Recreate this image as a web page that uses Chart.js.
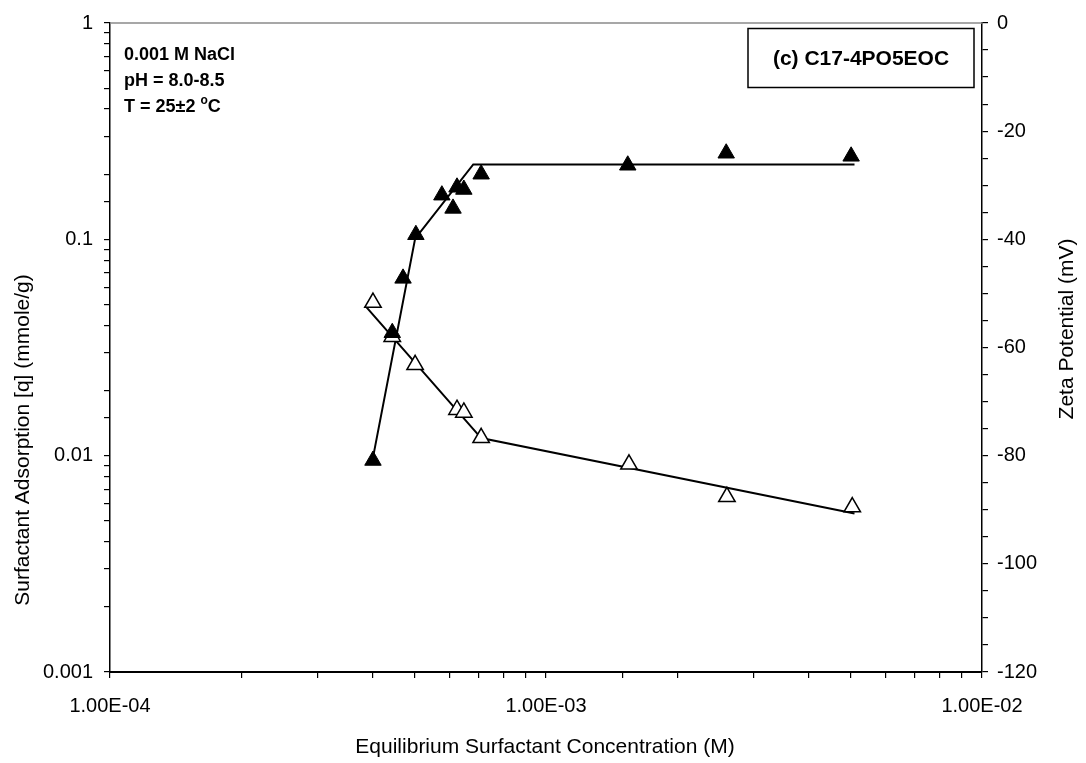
<!DOCTYPE html>
<html>
<head>
<meta charset="utf-8">
<script src="https://cdn.jsdelivr.net/npm/chart.js@4/dist/chart.umd.min.js"></script>
<style>
  body { margin: 0; background: #fff; }
  #wrap { width: 1086px; height: 763px; }
</style>
</head>
<body>
<div id="wrap"><canvas id="isoChart" width="1086" height="763"></canvas></div>
<script>
// Adsorption isotherm (filled triangles, left axis)
const adsConc = [4.01e-4, 4.44e-4, 4.70e-4, 5.03e-4, 5.77e-4, 6.12e-4, 6.25e-4, 6.48e-4, 7.10e-4, 1.54e-3, 2.59e-3, 5.01e-3];
const adsValues = [0.0095, 0.037, 0.066, 0.105, 0.16, 0.139, 0.174, 0.17, 0.20, 0.22, 0.25, 0.242];

// Zeta potential (open triangles, right axis)
const zetaConc = [4.01e-4, 4.44e-4, 5.01e-4, 6.25e-4, 6.48e-4, 7.10e-4, 1.55e-3, 2.60e-3, 5.04e-3];
const zetaValues = [-51.7, -58.0, -63.2, -71.5, -72.0, -76.7, -81.6, -87.6, -89.5];

// Trend lines
const adsFitConc = [4.01e-4, 5.01e-4, 6.81e-4, 5.1e-3];
const adsFitValues = [0.0098, 0.1007, 0.222, 0.222];
const zetaFitConc = [3.85e-4, 7.10e-4, 5.1e-3];
const zetaFitValues = [-52.3, -76.75, -90.7];

// Tick labels
const xTickLabels = ['1.00E-04', '1.00E-03', '1.00E-02'];
const yTickLabels = ['0.001', '0.01', '0.1', '1'];

const FONT = '"Liberation Sans", Arial, Helvetica, sans-serif';

function pts(xs, ys) {
    return xs.map((x, i) => ({ x: x, y: ys[i] }));
}

// returns exponent if v is an exact power of ten, otherwise null
function decade(v) {
    const e = Math.log10(v);
    const r = Math.round(e);
    return Math.abs(e - r) < 1e-6 ? r : null;
}

const textPlugin = {
    id: 'chartText',
    afterDraw(chart) {
        const ctx = chart.ctx;
        const area = chart.chartArea;
        ctx.save();

        // light frame line along the top
        ctx.strokeStyle = '#8a8a8a';
        ctx.lineWidth = 1.5;
        ctx.beginPath();
        ctx.moveTo(area.left, area.top);
        ctx.lineTo(area.right, area.top);
        ctx.stroke();

        ctx.fillStyle = '#000';

        // axis titles
        ctx.font = '21px ' + FONT;
        ctx.textAlign = 'center';
        ctx.textBaseline = 'middle';
        ctx.fillText('Equilibrium Surfactant Concentration (M)', 545, 747);

        ctx.save();
        ctx.translate(23, 440);
        ctx.rotate(-Math.PI / 2);
        ctx.fillText('Surfactant Adsorption [q] (mmole/g)', 0, 0);
        ctx.restore();

        ctx.save();
        ctx.translate(1067, 329);
        ctx.rotate(-Math.PI / 2);
        ctx.fillText('Zeta Potential (mV)', 0, 0);
        ctx.restore();

        // conditions
        ctx.font = 'bold 18px ' + FONT;
        ctx.textAlign = 'left';
        ctx.textBaseline = 'alphabetic';
        ctx.fillText('0.001 M NaCl', 124, 60);
        ctx.fillText('pH = 8.0-8.5', 124, 86);
        const tLabel = 'T = 25\u00b12 ';
        ctx.fillText(tLabel, 124, 112);
        let tx = 124 + ctx.measureText(tLabel).width;
        ctx.font = 'bold 12px ' + FONT;
        ctx.fillText('o', tx, 104);
        tx += ctx.measureText('o').width;
        ctx.font = 'bold 18px ' + FONT;
        ctx.fillText('C', tx, 112);

        // sample label box
        ctx.lineWidth = 1.5;
        ctx.strokeStyle = '#000';
        ctx.strokeRect(748, 28.5, 226, 59);
        ctx.font = 'bold 21px ' + FONT;
        ctx.textAlign = 'center';
        ctx.textBaseline = 'middle';
        ctx.fillText('(c) C17-4PO5EOC', 861, 59);

        ctx.restore();
    }
};

new Chart(document.getElementById('isoChart'), {
    type: 'scatter',
    data: {
        datasets: [
            {
                label: 'Adsorption',
                data: pts(adsConc, adsValues),
                yAxisID: 'y',
                pointStyle: 'triangle',
                pointRadius: 9.5,
                pointHoverRadius: 9.5,
                backgroundColor: '#000',
                borderColor: '#000',
                borderWidth: 1,
                order: 1
            },
            {
                label: 'Zeta potential',
                data: pts(zetaConc, zetaValues),
                yAxisID: 'y2',
                pointStyle: 'triangle',
                pointRadius: 9.5,
                pointHoverRadius: 9.5,
                backgroundColor: '#fff',
                borderColor: '#000',
                borderWidth: 1.5,
                order: 2
            },
            {
                label: 'Adsorption fit',
                data: pts(adsFitConc, adsFitValues),
                yAxisID: 'y',
                showLine: true,
                pointRadius: 0,
                borderColor: '#000',
                borderWidth: 2,
                order: 3
            },
            {
                label: 'Zeta fit',
                data: pts(zetaFitConc, zetaFitValues),
                yAxisID: 'y2',
                showLine: true,
                pointRadius: 0,
                borderColor: '#000',
                borderWidth: 2,
                order: 4
            }
        ]
    },
    options: {
        responsive: false,
        animation: false,
        layout: { padding: { top: 20, left: 0, right: 0, bottom: 0 } },
        plugins: {
            legend: { display: false },
            tooltip: { enabled: false }
        },
        scales: {
            x: {
                type: 'logarithmic',
                position: 'bottom',
                min: 1e-4,
                max: 1e-2,
                afterFit: s => { s.height = 91; },
                border: { color: '#000', width: 2 },
                grid: { drawOnChartArea: false, drawTicks: true, tickLength: 6, tickColor: '#000', lineWidth: 1.2 },
                ticks: {
                    color: '#000',
                    font: { family: FONT, size: 20 },
                    padding: 16,
                    autoSkip: false,
                    maxRotation: 0,
                    callback: v => {
                        const d = decade(v);
                        return d === null ? '' : xTickLabels[d + 4];
                    }
                }
            },
            y: {
                type: 'logarithmic',
                position: 'left',
                min: 0.001,
                max: 1,
                afterFit: s => { s.width = 110; },
                border: { color: '#000', width: 1.5 },
                grid: { drawOnChartArea: false, drawTicks: true, tickLength: 6, tickColor: '#000', lineWidth: 1.2 },
                ticks: {
                    color: '#000',
                    font: { family: FONT, size: 20 },
                    padding: 11,
                    autoSkip: false,
                    callback: v => {
                        const d = decade(v);
                        return d === null ? '' : yTickLabels[d + 3];
                    }
                }
            },
            y2: {
                type: 'linear',
                position: 'right',
                min: -120,
                max: 0,
                afterFit: s => { s.width = 104; },
                border: { color: '#000', width: 1.5 },
                grid: { drawOnChartArea: false, drawTicks: true, tickLength: 6, tickColor: '#000', lineWidth: 1.2 },
                ticks: {
                    color: '#000',
                    font: { family: FONT, size: 20 },
                    padding: 9,
                    stepSize: 5,
                    autoSkip: false,
                    callback: v => (v % 20 === 0 ? String(v) : '')
                }
            }
        }
    },
    plugins: [textPlugin]
});
</script>
</body>
</html>
